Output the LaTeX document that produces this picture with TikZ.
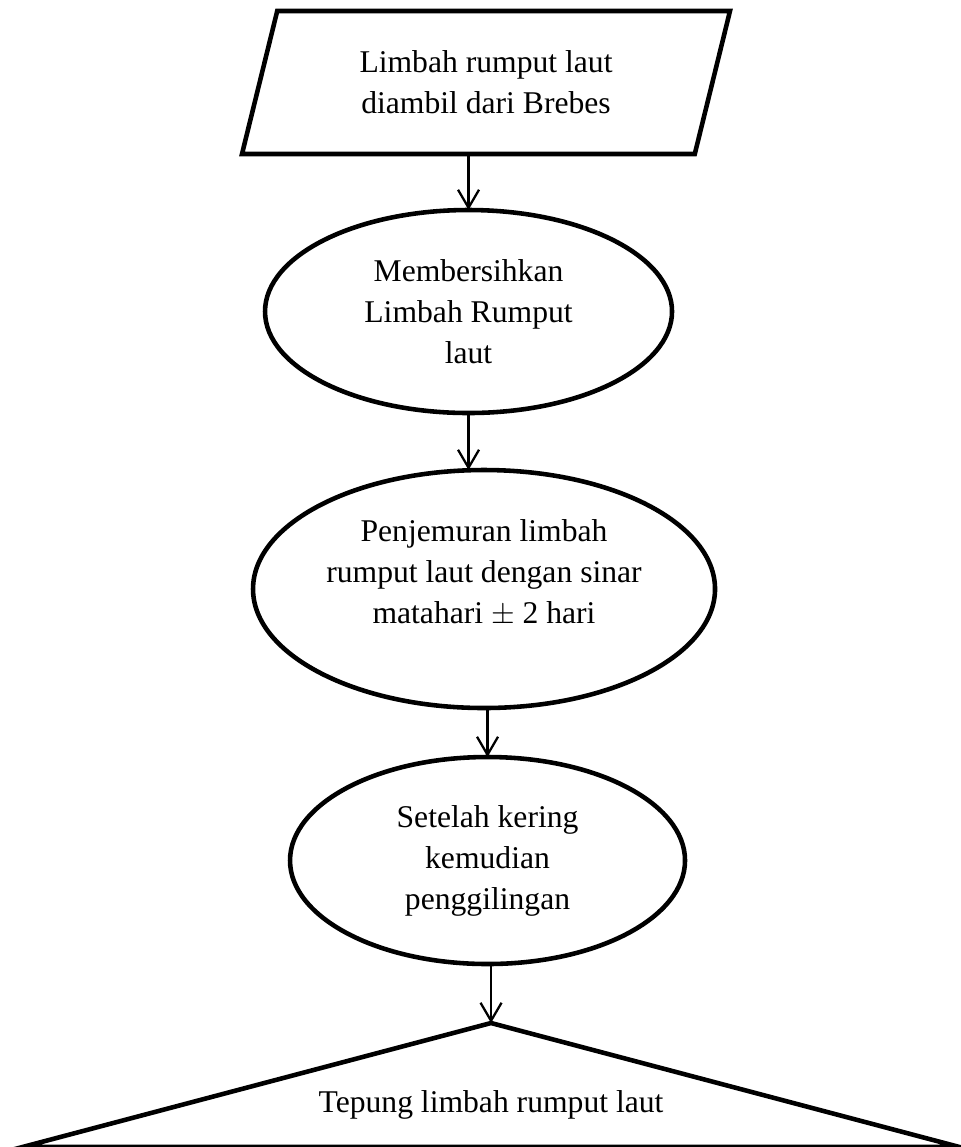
\documentclass[tikz,border=0pt]{standalone}
\usepackage{fontspec}
\setmainfont{Liberation Serif}
\usetikzlibrary{shapes.geometric,arrows.meta,positioning}

\begin{document}
\begin{tikzpicture}[node distance=1cm]
                \tikzstyle{para} = [draw, trapezium, trapezium left angle=75.5, trapezium right angle=104.5, trapezium stretches body, line width=2.6pt, minimum height=2.86cm, minimum width=9.76cm, inner xsep=0pt, inner ysep=0.73cm, outer sep=0pt, align=center, font=\fontsize{18}{23.3}\selectfont]
                \tikzstyle{ell} = [draw, ellipse, line width=2.6pt, inner sep=0pt, outer sep=0pt, align=center, font=\fontsize{18}{23.3}\selectfont]
                \tikzstyle{tri} = [draw, isosceles triangle, isosceles triangle stretches, shape border rotate=90, line width=2.6pt, minimum width=18.74cm, minimum height=2.48cm, inner sep=0pt, outer sep=0pt]
                \tikzstyle{txt} = [inner sep=0pt, align=center, font=\fontsize{18}{23.3}\selectfont]
                \tikzstyle{l} = [draw, -{Straight Barb[length=0.36cm, width=0.42cm]}, line width=1.3pt]

                \useasboundingbox (0,0) rectangle (19.22,-22.94);

                \node [para] (ambil) at (9.72,-1.65) {Limbah rumput laut\\diambil dari Brebes};
                \node [ell, minimum width=8.14cm, minimum height=4.06cm, below=1.12cm of ambil, xshift=-0.35cm] (bersih) {Membersihkan\\Limbah Rumput\\laut};
                \node [ell, minimum width=9.24cm, minimum height=4.76cm, below=1.14cm of bersih, xshift=0.31cm,
                       label={[txt, yshift=0.32cm]center:{Penjemuran limbah\\rumput laut dengan sinar\\matahari $\pm$ 2 hari}}] (jemur) {};
                \node [ell, minimum width=7.9cm, minimum height=4.14cm, below=0.98cm of jemur, xshift=0.07cm] (giling) {Setelah kering\\kemudian\\penggilingan};
                \node [tri, anchor=apex] (tepung) at ([xshift=0.07cm, yshift=-1.18cm]giling.south) {};
                \node [txt] (hasil) at ([yshift=0.84cm]tepung.lower side) {Tepung limbah rumput laut};

                \draw [l] (bersih.north |- ambil.south) -- (bersih.north);
                \draw [l] (bersih.south) -- (bersih.south |- jemur.north);
                \draw [l] (giling.north |- jemur.south) -- (giling.north);
                \draw [l] (tepung.apex |- giling.south) -- (tepung.apex);
            \end{tikzpicture}
\end{document}
